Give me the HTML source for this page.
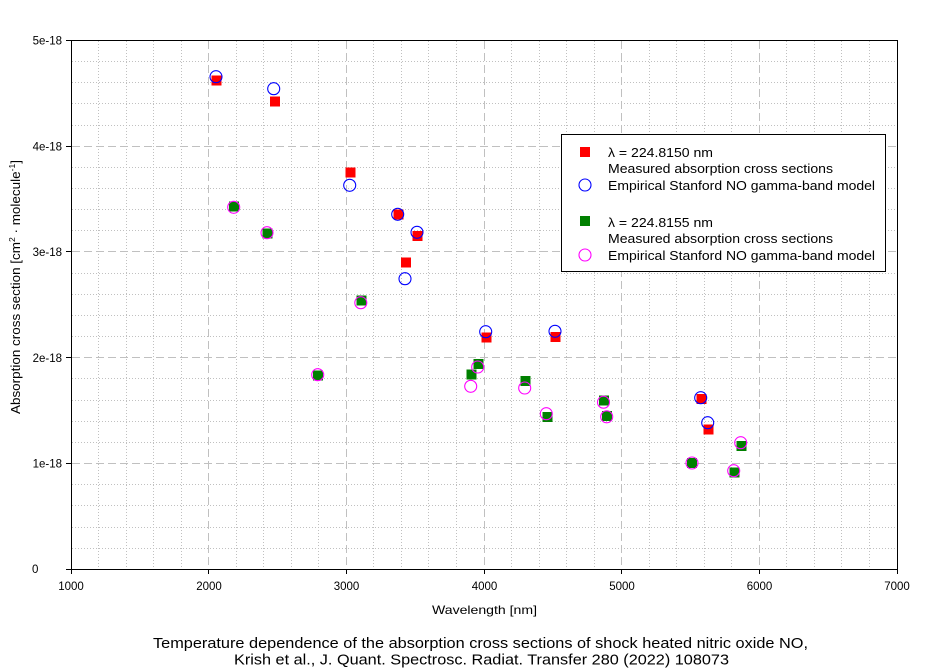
<!DOCTYPE html>
<html>
<head>
<meta charset="utf-8">
<style>
  html, body { margin: 0; padding: 0; background: #ffffff; }
  body { width: 937px; height: 672px; overflow: hidden; }
  svg { display: block; }
  text { font-family: "Liberation Sans", Arial, sans-serif; fill: #000; }
</style>
</head>
<body>
<svg width="937" height="672" viewBox="0 0 937 672" xmlns="http://www.w3.org/2000/svg">
  <rect x="0" y="0" width="937" height="672" fill="#ffffff"/>

  <!-- minor grid (dotted) -->
  <g stroke="#c0c0c0" stroke-width="1" stroke-dasharray="1,2" shape-rendering="crispEdges" fill="none">
    <!-- vertical minor -->
    <path d="M98.5 41 V567 M126.5 41 V567 M153.5 41 V567 M181.5 41 V567
             M236.5 41 V567 M263.5 41 V567 M291.5 41 V567 M318.5 41 V567
             M373.5 41 V567 M401.5 41 V567 M428.5 41 V567 M456.5 41 V567
             M511.5 41 V567 M539.5 41 V567 M566.5 41 V567 M594.5 41 V567
             M649.5 41 V567 M676.5 41 V567 M704.5 41 V567 M731.5 41 V567
             M786.5 41 V567 M814.5 41 V567 M841.5 41 V567 M869.5 41 V567"/>
    <!-- horizontal minor -->
    <path d="M72 548.5 H896 M72 527.5 H896 M72 505.5 H896 M72 484.5 H896
             M72 442.5 H896 M72 421.5 H896 M72 400.5 H896 M72 378.5 H896
             M72 336.5 H896 M72 315.5 H896 M72 294.5 H896 M72 273.5 H896
             M72 230.5 H896 M72 209.5 H896 M72 188.5 H896 M72 167.5 H896
             M72 125.5 H896 M72 103.5 H896 M72 82.5 H896 M72 61.5 H896"/>
  </g>

  <!-- major grid (dashed) -->
  <g stroke="#c0c0c0" stroke-width="1" stroke-dasharray="8,4" shape-rendering="crispEdges" fill="none">
    <path d="M208.5 41 V569 M346.5 41 V569 M484.5 41 V569 M621.5 41 V569 M759.5 41 V569"/>
    <path d="M72 463.5 H897 M72 357.5 H897 M72 251.5 H897 M72 146.5 H897"/>
  </g>

  <!-- frame -->
  <rect x="71.5" y="40.5" width="826" height="529" fill="none" stroke="#000" stroke-width="1" shape-rendering="crispEdges"/>

  <!-- ticks -->
  <g stroke="#000" stroke-width="1" shape-rendering="crispEdges">
    <path d="M71.5 569 V574 M208.5 569 V574 M346.5 569 V574 M484.5 569 V574 M621.5 569 V574 M759.5 569 V574 M897.5 569 V574"/>
    <path d="M66 569.5 H71 M66 463.5 H71 M66 357.5 H71 M66 251.5 H71 M66 146.5 H71 M66 40.5 H71"/>
  </g>

  <!-- x tick labels -->
  <g font-size="11.5" text-anchor="middle">
    <text x="71" y="590">1000</text>
    <text x="209" y="590">2000</text>
    <text x="346.5" y="590">3000</text>
    <text x="484.5" y="590">4000</text>
    <text x="622" y="590">5000</text>
    <text x="759.5" y="590">6000</text>
    <text x="897" y="590">7000</text>
  </g>

  <!-- y tick labels -->
  <g font-size="11.5" text-anchor="end">
    <text x="62" y="44.5">5e-18</text>
    <text x="62" y="150.5">4e-18</text>
    <text x="62" y="256">3e-18</text>
    <text x="62" y="362">2e-18</text>
    <text x="62" y="467.5">1e-18</text>
  </g>
  <text x="32" y="573" font-size="11.5">0</text>

  <!-- axis titles -->
  <text x="432" y="614" font-size="12" textLength="105" lengthAdjust="spacingAndGlyphs">Wavelength [nm]</text>
  <text transform="translate(20,287) rotate(-90)" font-size="12.5" text-anchor="middle" textLength="254" lengthAdjust="spacingAndGlyphs">Absorption cross section [cm<tspan font-size="8" dy="-5">2</tspan><tspan dy="5"> · molecule</tspan><tspan font-size="8" dy="-5">-1</tspan><tspan dy="5">]</tspan></text>

  <!-- chart title -->
  <text x="153" y="648" font-size="15" textLength="655" lengthAdjust="spacingAndGlyphs">Temperature dependence of the absorption cross sections of shock heated nitric oxide NO,</text>
  <text x="234" y="664.5" font-size="15" textLength="495" lengthAdjust="spacingAndGlyphs">Krish et al., J. Quant. Spectrosc. Radiat. Transfer 280 (2022) 108073</text>

  <!-- red squares (224.8150 measured) -->
  <g fill="#ff0000" shape-rendering="crispEdges">
    <rect x="211.5" y="75.3" width="10" height="10"/>
    <rect x="270" y="96.3" width="10" height="10"/>
    <rect x="345.3" y="167.3" width="10" height="10"/>
    <rect x="393.3" y="209.3" width="10" height="10"/>
    <rect x="412.7" y="231" width="10" height="10"/>
    <rect x="401" y="257.7" width="10" height="10"/>
    <rect x="481.3" y="332.3" width="10" height="10"/>
    <rect x="550.7" y="332" width="10" height="10"/>
    <rect x="696.3" y="394" width="10" height="10"/>
    <rect x="703.3" y="424.3" width="10" height="10"/>
  </g>

  <!-- blue circles (model 1) -->
  <g fill="none" stroke="#0000ff" stroke-width="1.1">
    <circle cx="216" cy="76.7" r="6"/>
    <circle cx="273.7" cy="88.7" r="6"/>
    <circle cx="349.7" cy="185.3" r="6"/>
    <circle cx="397.7" cy="214.3" r="6"/>
    <circle cx="417" cy="232.3" r="6"/>
    <circle cx="405" cy="278.7" r="6"/>
    <circle cx="485.7" cy="331.7" r="6"/>
    <circle cx="555" cy="331.3" r="6"/>
    <circle cx="700.7" cy="397.7" r="6"/>
    <circle cx="707.7" cy="422.7" r="6"/>
  </g>

  <!-- green squares (224.8155 measured) -->
  <g fill="#008000" shape-rendering="crispEdges">
    <rect x="229" y="201.7" width="10" height="10"/>
    <rect x="262.3" y="228.7" width="10" height="10"/>
    <rect x="313" y="370.7" width="10" height="10"/>
    <rect x="356.7" y="295.5" width="10" height="10"/>
    <rect x="473.7" y="359" width="10" height="10"/>
    <rect x="466.3" y="369.3" width="10" height="10"/>
    <rect x="520.3" y="376" width="10" height="10"/>
    <rect x="542.3" y="412" width="10" height="10"/>
    <rect x="599" y="395.5" width="10" height="10"/>
    <rect x="601.8" y="411" width="10" height="10"/>
    <rect x="687" y="458" width="10" height="10"/>
    <rect x="729.3" y="467.3" width="10" height="10"/>
    <rect x="736.3" y="441" width="10" height="10"/>
  </g>

  <!-- magenta circles (model 2) -->
  <g fill="none" stroke="#ff00ff" stroke-width="1.1">
    <circle cx="233.7" cy="207.3" r="6"/>
    <circle cx="267" cy="232.7" r="6"/>
    <circle cx="317.7" cy="374.7" r="6"/>
    <circle cx="360.8" cy="302.7" r="6"/>
    <circle cx="477.7" cy="367" r="6"/>
    <circle cx="470.7" cy="386.3" r="6"/>
    <circle cx="524.7" cy="388" r="6"/>
    <circle cx="546.3" cy="413.7" r="6"/>
    <circle cx="603.5" cy="402.2" r="6"/>
    <circle cx="606.7" cy="416.8" r="6"/>
    <circle cx="692" cy="463" r="6"/>
    <circle cx="733.7" cy="470.7" r="6"/>
    <circle cx="740.7" cy="442.7" r="6"/>
  </g>

  <!-- legend -->
  <rect x="561.5" y="134.5" width="324" height="137" fill="#ffffff" stroke="#000" stroke-width="1" shape-rendering="crispEdges"/>
  <rect x="580" y="147" width="10" height="10" fill="#ff0000" shape-rendering="crispEdges"/>
  <circle cx="585" cy="185" r="6" fill="none" stroke="#0000ff" stroke-width="1.1"/>
  <rect x="580" y="216" width="10" height="10" fill="#008000" shape-rendering="crispEdges"/>
  <circle cx="585" cy="255" r="6" fill="none" stroke="#ff00ff" stroke-width="1.1"/>
  <g font-size="13">
    <text x="608" y="157" textLength="105" lengthAdjust="spacingAndGlyphs">λ = 224.8150 nm</text>
    <text x="608" y="173" textLength="225" lengthAdjust="spacingAndGlyphs">Measured absorption cross sections</text>
    <text x="608" y="190" textLength="267" lengthAdjust="spacingAndGlyphs">Empirical Stanford NO gamma-band model</text>
    <text x="608" y="227" textLength="105" lengthAdjust="spacingAndGlyphs">λ = 224.8155 nm</text>
    <text x="608" y="243" textLength="225" lengthAdjust="spacingAndGlyphs">Measured absorption cross sections</text>
    <text x="608" y="260" textLength="267" lengthAdjust="spacingAndGlyphs">Empirical Stanford NO gamma-band model</text>
  </g>
</svg>
</body>
</html>
